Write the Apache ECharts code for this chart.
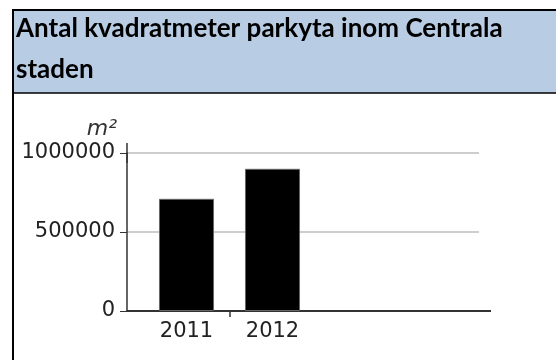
<!DOCTYPE html>
<html>
<head>
<meta charset="utf-8">
<script src="https://cdn.jsdelivr.net/npm/echarts@6/dist/echarts.min.js"></script>
<style>
  html, body { margin: 0; padding: 0; background: #fff; }
  #c { width: 556px; height: 360px; }
</style>
</head>
<body>
<div id="c"></div>
<script>
// Heading text (two lines in the table header)
const titleLines = ['Antal kvadratmeter parkyta inom Centrala', 'staden'];
// Unit shown above the value axis
const unitLabel = 'm²';
// Categories and values
const years = ['2011', '2012'];
const area = [710000, 900000];
// Value axis range and step
const yMin = 0;
const yMax = 1000000;
const yStep = 500000;
// Boundaries between year columns (only the inner one carries a tick)
const yearBoundaries = ['', '', ''];

const axisColor = '#333';
const labelFont = 'DejaVu Sans, Verdana, sans-serif';
const headFont = 'bold 26px Lato, "Open Sans", sans-serif';

const chart = echarts.init(document.getElementById('c'), null, { renderer: 'canvas' });

chart.setOption({
  animation: false,
  backgroundColor: '#fff',
  graphic: [
    // header band
    { type: 'rect', z: 0, shape: { x: 13, y: 10, width: 560, height: 83 },
      style: { fill: '#b8cce4' } },
    // table frame lines
    { type: 'line', z: 1, shape: { x1: 12, y1: 10, x2: 556, y2: 10 },
      style: { stroke: '#000', lineWidth: 2 } },
    { type: 'line', z: 1, shape: { x1: 13, y1: 9, x2: 13, y2: 360 },
      style: { stroke: '#000', lineWidth: 2 } },
    { type: 'line', z: 1, shape: { x1: 12, y1: 93, x2: 556, y2: 93 },
      style: { stroke: '#000', lineWidth: 1.5 } },
    // heading text
    { type: 'text', z: 2, x: 16, y: 29,
      style: { text: titleLines[0], font: headFont, fill: '#000', verticalAlign: 'middle' } },
    { type: 'text', z: 2, x: 16, y: 70,
      style: { text: titleLines[1], font: headFont, fill: '#000', verticalAlign: 'middle' } }
  ],
  grid: [
    // frame grid: value axis, gridlines, baseline
    { left: 127, top: 153, width: 352, height: 158 },
    // plotting grid for the year columns
    { left: 143.5, top: 153, width: 172, height: 158 }
  ],
  xAxis: [
    {
      gridIndex: 0, type: 'value', min: 0, max: 1, position: 'bottom',
      axisLine: { show: true, onZero: false, symbol: ['none', 'rect'], symbolSize: [2, 24],
                  lineStyle: { color: axisColor, width: 2 } },
      axisTick: { show: false }, axisLabel: { show: false }, splitLine: { show: false }
    },
    {
      gridIndex: 1, type: 'category', data: years, boundaryGap: true, position: 'bottom',
      axisLine: { show: false }, axisTick: { show: false },
      axisLabel: { show: true, color: '#222', fontFamily: labelFont, fontSize: 21, margin: 10 }
    },
    {
      gridIndex: 1, type: 'category', data: yearBoundaries, boundaryGap: false,
      position: 'bottom', offset: 0,
      axisLine: { show: false, onZero: false }, axisLabel: { show: false },
      axisTick: { show: true, length: 6, inside: false,
                  interval: function (i) { return i === 1; },
                  lineStyle: { color: axisColor, width: 1.5 } }
    }
  ],
  yAxis: [
    {
      gridIndex: 0, type: 'value', min: yMin, max: yMax, interval: yStep,
      name: unitLabel, nameLocation: 'end', nameGap: 13,
      nameTextStyle: { fontFamily: labelFont, fontStyle: 'italic',
                       fontSize: 22, color: '#333', align: 'right', verticalAlign: 'bottom',
                       padding: [0, 10, 0, 0] },
      axisLine: { show: true, onZero: false, symbol: ['none', 'rect'], symbolSize: [1.5, 20],
                  lineStyle: { color: axisColor, width: 1.5 } },
      axisTick: { show: true, length: 7, lineStyle: { color: axisColor } },
      axisLabel: { color: '#222', fontFamily: labelFont, fontSize: 21, margin: 12,
                   formatter: function (v) { return String(v); } },
      splitLine: { show: true, showMinLine: false,
                   lineStyle: { color: '#bdbdbd', width: 1.5 } }
    },
    {
      gridIndex: 1, type: 'value', min: yMin, max: yMax, interval: yStep, show: false
    }
  ],
  series: [
    {
      type: 'bar', xAxisIndex: 1, yAxisIndex: 1, data: area,
      barWidth: '64%',
      itemStyle: { color: '#000', borderColor: '#666', borderWidth: 1 },
      z: 3
    }
  ]
});
</script>
</body>
</html>
